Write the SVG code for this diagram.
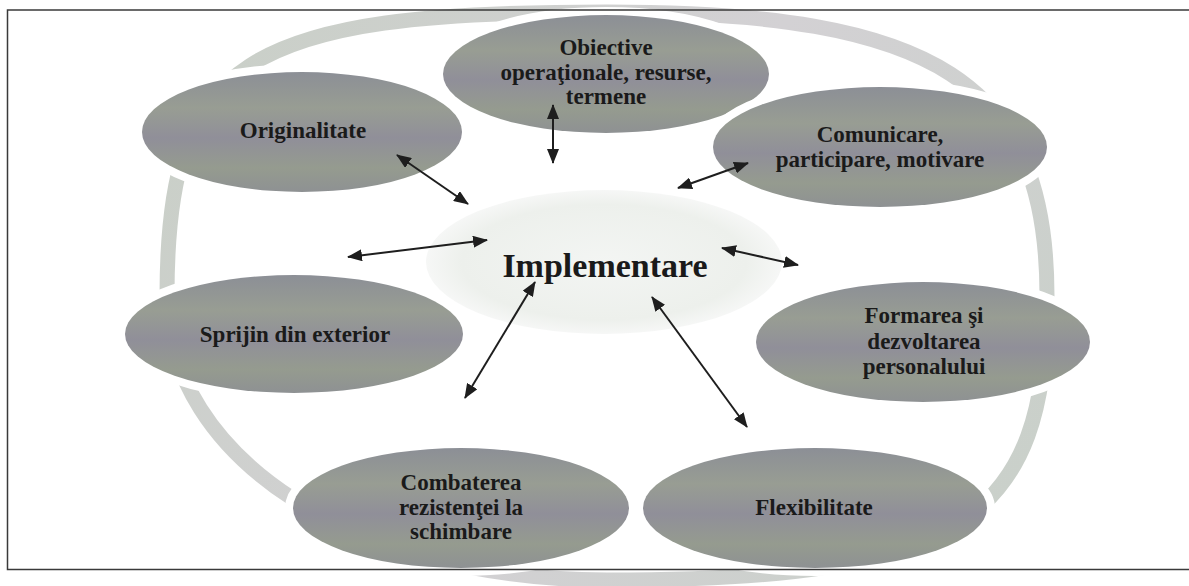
<svg xmlns="http://www.w3.org/2000/svg" width="1189" height="586" viewBox="0 0 1189 586">
<defs>
<style>
.node-bg{fill:#ffffff;stroke:#ffffff;stroke-width:16}
.node{fill:url(#nodeFill)}
.lbl{font-family:"Liberation Serif","Times New Roman",serif;font-weight:bold;font-size:23px;fill:#1a1a1a;text-anchor:middle}
.main{font-family:"Liberation Serif","Times New Roman",serif;font-weight:bold;font-size:34px;fill:#1a1a1a;text-anchor:middle}
.conn{stroke:#1e1e1e;stroke-width:2;fill:none;marker-start:url(#ah);marker-end:url(#ah)}
</style>
<linearGradient id="nodeFill" x1="0" y1="0" x2="0" y2="1">
<stop offset="0" stop-color="#8c8f96"/>
<stop offset="0.3" stop-color="#989d93"/>
<stop offset="0.55" stop-color="#908f99"/>
<stop offset="0.8" stop-color="#959b8f"/>
<stop offset="1" stop-color="#8e9193"/>
</linearGradient>
<linearGradient id="ringFill" gradientUnits="userSpaceOnUse" x1="160" y1="0" x2="1055" y2="586">
<stop offset="0" stop-color="#c8cfc6"/>
<stop offset="0.5" stop-color="#d3d1d4"/>
<stop offset="1" stop-color="#c8d0c8"/>
</linearGradient>
<radialGradient id="centerFill" cx="0.5" cy="0.5" r="0.5">
<stop offset="0" stop-color="#f3f5f3"/>
<stop offset="0.8" stop-color="#edf0ec"/>
<stop offset="1" stop-color="#f6f7f6"/>
</radialGradient>
<marker id="ah" markerUnits="userSpaceOnUse" markerWidth="15" markerHeight="12" refX="14" refY="6" orient="auto-start-reverse">
<path d="M0,0 L15,6 L0,12 z" fill="#1e1e1e"/>
</marker>
</defs>
<rect width="1189" height="586" fill="#ffffff"/>
<path id="ring" d="M607,12 C937,12 1047,83 1047,296 C1047,523 959,580 607,580 C356,580 167,458 167,296 C167,60 242,12 607,12 Z" fill="none" stroke="url(#ringFill)" stroke-width="15"/>
<g id="center">
<ellipse cx="604" cy="262" rx="178" ry="72" fill="url(#centerFill)"/>
<text class="main" x="605" y="277">Implementare</text>
</g>
<g id="n-obiective">
<ellipse class="node-bg" cx="606" cy="74" rx="163" ry="59"/>
<ellipse class="node" cx="606" cy="74" rx="163" ry="59"/>
<text class="lbl" x="606" y="55">Obiective</text>
<text class="lbl" x="606" y="80">operaţionale, resurse,</text>
<text class="lbl" x="606" y="104">termene</text>
</g>
<g id="n-originalitate">
<ellipse class="node-bg" cx="302" cy="132" rx="160" ry="60"/>
<ellipse class="node" cx="302" cy="132" rx="160" ry="60"/>
<text class="lbl" x="303" y="138">Originalitate</text>
</g>
<g id="n-comunicare">
<ellipse class="node-bg" cx="880" cy="147" rx="167" ry="60"/>
<ellipse class="node" cx="880" cy="147" rx="167" ry="60"/>
<text class="lbl" x="880" y="142">Comunicare,</text>
<text class="lbl" x="880" y="167">participare, motivare</text>
</g>
<g id="n-sprijin">
<ellipse class="node-bg" cx="294" cy="334" rx="169" ry="59"/>
<ellipse class="node" cx="294" cy="334" rx="169" ry="59"/>
<text class="lbl" x="295" y="342">Sprijin din exterior</text>
</g>
<g id="n-formarea">
<ellipse class="node-bg" cx="923" cy="342" rx="167" ry="60"/>
<ellipse class="node" cx="923" cy="342" rx="167" ry="60"/>
<text class="lbl" x="924" y="323">Formarea şi</text>
<text class="lbl" x="924" y="349">dezvoltarea</text>
<text class="lbl" x="924" y="374">personalului</text>
</g>
<g id="n-combaterea">
<ellipse class="node-bg" cx="461" cy="508" rx="168" ry="60"/>
<ellipse class="node" cx="461" cy="508" rx="168" ry="60"/>
<text class="lbl" x="461" y="490">Combaterea</text>
<text class="lbl" x="461" y="515">rezistenţei la</text>
<text class="lbl" x="461" y="539">schimbare</text>
</g>
<g id="n-flexibilitate">
<ellipse class="node-bg" cx="815" cy="508" rx="172" ry="60"/>
<ellipse class="node" cx="815" cy="508" rx="172" ry="60"/>
<text class="lbl" x="814" y="515">Flexibilitate</text>
</g>
<g id="connectors">
<line class="conn" x1="553" y1="105" x2="553" y2="163"/>
<line class="conn" x1="397" y1="155" x2="468" y2="204"/>
<line class="conn" x1="748" y1="163" x2="678" y2="188"/>
<line class="conn" x1="348" y1="257" x2="487" y2="240"/>
<line class="conn" x1="722" y1="248" x2="798" y2="265"/>
<line class="conn" x1="535" y1="282" x2="465" y2="398"/>
<line class="conn" x1="652" y1="297" x2="747" y2="427"/>
</g>
<path id="frame" d="M1189,10 L7.5,10 L7.5,569.5 L1189,569.5" fill="none" stroke="#3a3a3a" stroke-width="1.5"/>
</svg>
